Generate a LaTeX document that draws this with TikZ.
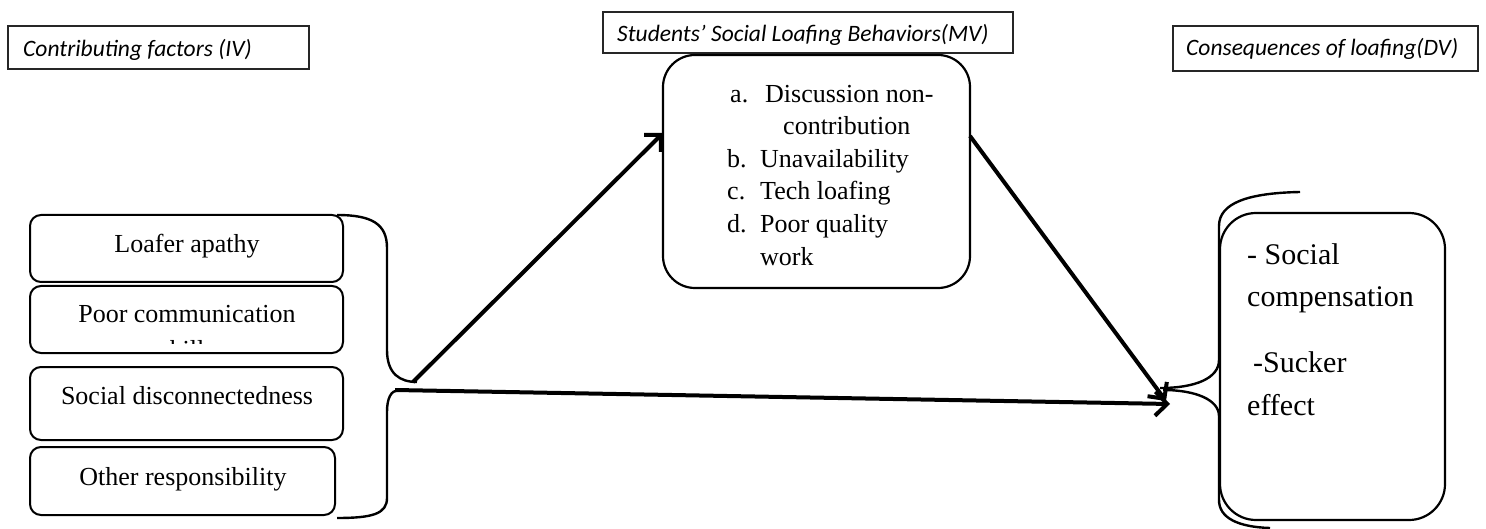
\documentclass[tikz,border=0pt]{standalone}
\usepackage{fontspec}
\setmainfont{Liberation Serif}
\newfontfamily\headfont{Carlito}
\usetikzlibrary{arrows.meta}
\begin{document}
\begin{tikzpicture}[x=1pt,y=-1pt,
  headbox/.style={draw=black!85,line width=1.5pt,inner sep=0pt},
  factorbox/.style={draw,line width=2pt,rounded corners=11pt,inner sep=0pt,minimum width=313pt,minimum height=67pt},
  bigbox/.style={draw,line width=2.2pt,inner sep=0pt},
  brace/.style={line width=2.4pt},
  flow/.style={line width=4pt,-{Straight Barb[length=12pt,width=24pt,line width=0pt 1]}},
  headtxt/.style={font=\headfont\itshape\fontsize{23.5}{27}\selectfont,anchor=base west,inner sep=0pt},
  txt/.style={font=\fontsize{26}{30}\selectfont,anchor=base,inner sep=0pt},
  ltxt/.style={font=\fontsize{26}{30}\selectfont,anchor=base west,inner sep=0pt},
  dtxt/.style={font=\fontsize{30}{34}\selectfont,anchor=base west,inner sep=0pt}]
\useasboundingbox (0,0) rectangle (1486,529);

% headings
\node[headbox,minimum width=301pt,minimum height=43pt] (ivh) at (158.5,47.5) {};
\node[headtxt] (ivt) at (23,57) {Contributing factors (IV)};
\node[headbox,minimum width=410pt,minimum height=41pt] (mvh) at (808,32.5) {};
\node[headtxt] (mvt) at (617,42) {Students’ Social Loafing Behaviors(MV)};
\node[headbox,minimum width=305pt,minimum height=45pt] (dvh) at (1325.5,48.5) {};
\node[headtxt] (dvt) at (1186,56) {Consequences of loafing(DV)};

% contributing factors
\node[factorbox] (f1) at (186.5,248.5) {};
\node[txt] (f1t) at (187,253) {Loafer apathy};
\node[factorbox] (f2) at (186.5,319.5) {};
\node[txt] (f2t) at (187,323) {Poor communication};
\begin{scope}
  \clip (40,300) rectangle (330,343.5);
  \node[txt] (f2s) at (187,359) {skills};
\end{scope}
\node[factorbox,minimum height=73pt] (f3) at (186.5,403.5) {};
\node[txt] (f3t) at (187,404) {Social disconnectedness};
\node[factorbox,minimum width=305pt,minimum height=68pt] (f4) at (182.5,481) {};
\node[txt] (f4t) at (183,485) {Other responsibility};

% mediating behaviours
\node[bigbox,rounded corners=32pt,minimum width=307pt,minimum height=233pt] (mv) at (816.5,171.5) {};
\node[ltxt] (ma) at (730,103) {a.};
\node[ltxt] (mat) at (765,103) {Discussion non-};
\node[ltxt] (mat2) at (783,135) {contribution};
\node[ltxt] (mb) at (727,168) {b.};
\node[ltxt] (mbt) at (760,168) {Unavailability};
\node[ltxt] (mc) at (727,200) {c.};
\node[ltxt] (mct) at (760,200) {Tech loafing};
\node[ltxt] (md) at (727,233) {d.};
\node[ltxt] (mdt) at (760,233) {Poor quality};
\node[ltxt] (mdt2) at (760,266) {work};

% consequences
\node[bigbox,rounded corners=36pt,minimum width=225pt,minimum height=307pt] (dv) at (1332.5,366.5) {};
\node[dtxt] (d1) at (1247,265) {- Social};
\node[dtxt] (d2) at (1247,307) {compensation};
\node[dtxt] (d3) at (1253,372) {-Sucker};
\node[dtxt] (d4) at (1247,415) {effect};

% braces
\coordinate (lb1) at (337,215);
\coordinate (ltip) at (417,382);
\coordinate (ltip2) at (398,390);
\coordinate (lb2) at (337,518);
\draw[brace] (lb1) .. controls (372,215) and (387,224) .. (387,248) -- (387,350)
  .. controls (387,374) and (400,382) .. (ltip);
\draw[brace] (ltip2) .. controls (391,391) and (387,398) .. (387,412) -- (387,498)
  .. controls (387,514) and (372,518) .. (lb2);

\coordinate (rb1) at (1300,192);
\coordinate (rtip) at (1160,388);
\coordinate (rtip2) at (1163,390);
\coordinate (rb2) at (1270,528);
\draw[brace] (rb1) .. controls (1248,193) and (1219,203) .. (1219,226) -- (1219,360)
  .. controls (1219,378) and (1196,388) .. (rtip);
\draw[brace] (rtip2) .. controls (1196,390) and (1219,400) .. (1219,416) -- (1219,500)
  .. controls (1219,518) and (1238,527) .. (rb2);

% paths of influence
\coordinate (a1s) at (413,382);
\coordinate (mvin) at (663,133);
\coordinate (a2s) at (395,390);
\coordinate (dvin) at (1170,404);
\coordinate (mvout) at (970,136);
\coordinate (dvin2) at (1166,401);
\draw[flow] (a1s) -- (mvin);
\draw[flow] (a2s) -- (dvin);
\draw[flow] (mvout) -- (dvin2);
\end{tikzpicture}
\end{document}
